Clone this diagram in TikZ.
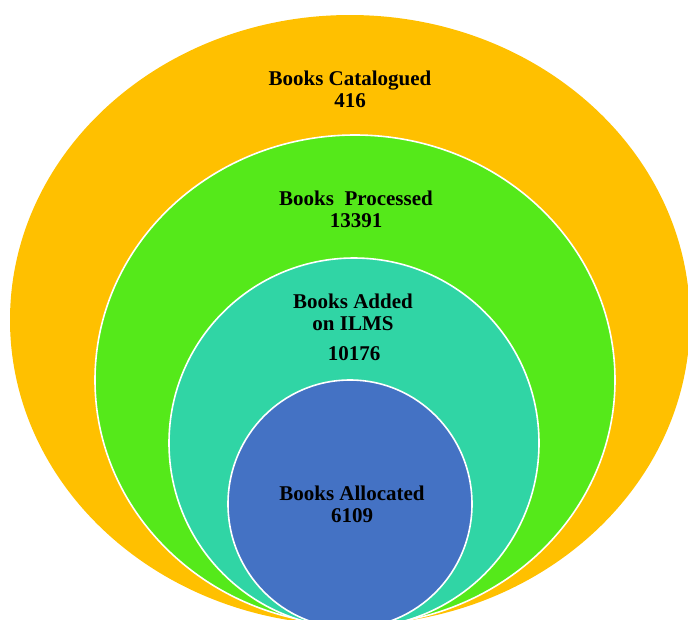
\documentclass[tikz,border=0pt]{standalone}
\usepackage{fontspec}
\setmainfont{Liberation Serif}
\usepackage {tikz}
\usetikzlibrary {positioning}

\definecolor{catorange}{HTML}{FFC000}
\definecolor{procgreen}{HTML}{55E91A}
\definecolor{ilmsteal}{HTML}{30D5A5}
\definecolor{allocblue}{HTML}{4472C4}

\begin{document}
\begin{tikzpicture}[x=1pt, y=-1pt, every node/.style={transform shape},
ring/.style={draw=white, line width=1.6pt},
caption/.style={font=\bfseries\fontsize{21}{22}\selectfont, align=center, text=black, inner sep=0pt}]

\useasboundingbox (0,0) rectangle (688,619);
\clip (0,0) rectangle (688,619);

\fill[catorange]        (350,320) ellipse [x radius=340, y radius=305];
\draw[ring, fill=procgreen] (355,380) ellipse [x radius=260, y radius=245];
\draw[ring, fill=ilmsteal]  (354,443) ellipse [x radius=185, y radius=185];
\draw[ring, fill=allocblue] (350,504) ellipse [x radius=122, y radius=124];

\node[caption] (cat)   at (350,89)  {Books Catalogued\\416};
\node[caption] (proc)  at (356,209) {Books~~Processed\\13391};
\node[caption] (ilms)  at (353,312) {Books Added\\on ILMS};
\node[caption] (ilmsn) at (354,354) {10176};
\node[caption] (alloc) at (352,504) {Books Allocated\\6109};

\end{tikzpicture}
\end{document}
